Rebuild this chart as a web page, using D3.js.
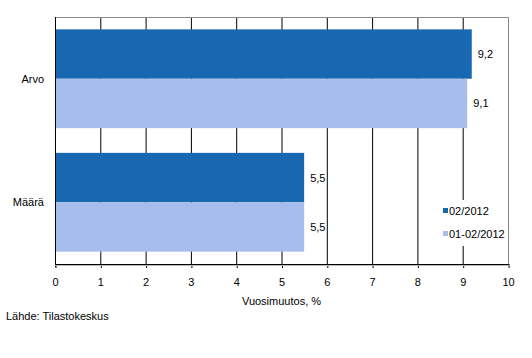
<!DOCTYPE html>
<html><head><meta charset="utf-8">
<script src="https://cdn.jsdelivr.net/npm/d3@7"></script>
<style>body{margin:0;background:#fff}svg{display:block}text{font-family:Arial,"Liberation Sans",sans-serif;font-size:11px;fill:#000}</style>
</head><body><svg id="c" width="532" height="358"></svg>
<script>
const categories = ["Arvo", "Määrä"];
const seriesNames = ["02/2012", "01-02/2012"];
const values02 = [9.2, 5.5];
const values0102 = [9.1, 5.5];
const xTicks = [0,1,2,3,4,5,6,7,8,9,10];
const colors = ["#1868b1", "#a7bdeb"];

const svg = d3.select("#c");
const L = 55, R = 508, T = 17, B = 264;
const x = d3.scaleLinear().domain([0,10]).range([L,R]);
const y = d3.scaleBand().domain(categories).range([T,B]).paddingInner(0.2).paddingOuter(0.1);
const ys = d3.scaleBand().domain(seriesNames).range([0,y.bandwidth()]);

// gridlines
svg.append("g").selectAll("line").data(xTicks.filter(d=>d>0&&d<10)).join("line")
  .attr("x1",d=>x(d)+0.5).attr("x2",d=>x(d)+0.5).attr("y1",T).attr("y2",B)
  .attr("stroke","#000").attr("stroke-width",1);
// border top/right
svg.append("path").attr("d",`M${L},${T+0.5}H${R+0.5}V${B}`).attr("fill","none").attr("stroke","#888");

const series = [values02, values0102];
series.forEach((vals,si)=>{
  svg.append("g").selectAll("rect").data(categories).join("rect")
    .attr("x",L).attr("y",(c)=>y(c)+ys(seriesNames[si]))
    .attr("width",(c,i)=>x(vals[i])-L).attr("height",ys.bandwidth())
    .attr("fill",colors[si]);
  svg.append("g").selectAll("text").data(categories).join("text")
    .attr("x",(c,i)=>x(vals[i])+6).attr("y",(c)=>y(c)+ys(seriesNames[si])+ys.bandwidth()/2+4)
    .text((c,i)=>String(vals[i]).replace(".",","));
});

// left axis line
svg.append("line").attr("x1",L+0.5).attr("x2",L+0.5).attr("y1",T).attr("y2",B+3).attr("stroke","#000");
// category labels
svg.append("g").selectAll("text").data(categories).join("text")
  .attr("x",44).attr("y",c=>y(c)+y.bandwidth()/2+4).attr("text-anchor","end").text(c=>c);

// bottom axis
const xa = svg.append("g").attr("transform",`translate(0,${B})`)
  .call(d3.axisBottom(x).tickValues(xTicks).tickSize(4).tickPadding(10).tickFormat(d=>d));
xa.select(".domain").remove();
xa.selectAll("line").attr("stroke","#000").attr("transform","translate(0.5,0)");
xa.selectAll("text").style("font-family","Arial,'Liberation Sans',sans-serif").style("font-size","11px");
svg.append("line").attr("x1",L).attr("x2",R+1).attr("y1",B+0.5).attr("y2",B+0.5).attr("stroke","#000");
svg.append("line").attr("x1",L).attr("x2",R+1).attr("y1",B+1.5).attr("y2",B+1.5).attr("stroke","#bbb");

svg.append("text").attr("x",(L+R)/2).attr("y",305).attr("text-anchor","middle").text("Vuosimuutos, %");
svg.append("text").attr("x",6).attr("y",320).text("Lähde: Tilastokeskus");

// legend
const lg = svg.append("g");
lg.append("rect").attr("x",438).attr("y",200).attr("width",68).attr("height",46).attr("fill","#fff");
seriesNames.forEach((s,i)=>{
  lg.append("rect").attr("x",443).attr("y",208+i*23).attr("width",5).attr("height",5).attr("fill",colors[i]);
  lg.append("text").attr("x",449).attr("y",215+i*23).text(s);
});
</script></body></html>
